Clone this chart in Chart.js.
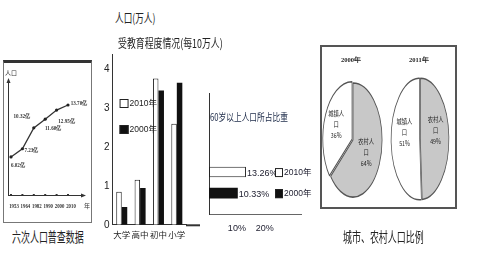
<!DOCTYPE html>
<html>
<head>
<meta charset="utf-8">
<script src="https://cdn.jsdelivr.net/npm/chart.js"></script>
<style>
body { margin:0; width:480px; height:270px; background:#fff; position:relative; overflow:hidden; font-family:"Noto Sans CJK SC", sans-serif; color:#222; }
canvas, .t, .box { position:absolute; }
.box { box-sizing:border-box; }
.t { white-space:nowrap; transform-origin:0 0; line-height:1; }
.pt { font:bold 6.5px "Liberation Serif", serif; }
</style>
</head>
<body>
<div class="box" style="left:3px;top:60px;width:89px;height:163px;border:1px solid #777;border-top:3px solid #333"></div>
<div class="box" style="left:320px;top:45px;width:137px;height:164px;border:2px solid #555"></div>

<canvas id="popChart" width="87" height="157" style="left:4px;top:64px"></canvas>
<canvas id="eduChart" width="110" height="200" style="left:95px;top:45px"></canvas>
<canvas id="agedChart" width="115" height="162" style="left:200px;top:88px"></canvas>
<canvas id="urban2000" width="130" height="130" style="left:288px;top:75px"></canvas>
<canvas id="urban2011" width="130" height="130" style="left:355px;top:74px"></canvas>

<div class="t" style="left:115px;top:12px;font-size:12px;transform:scaleX(0.72)">人口(万人)</div>
<div class="t" style="left:118px;top:37px;font-size:12px;transform:scaleX(0.74)">受教育程度情况(每10万人)</div>
<div class="t" style="left:210px;top:112px;font-size:10px;transform:scaleX(0.77);color:#1c2a48">60岁以上人口所占比重</div>
<div class="t" style="left:12px;top:229px;font-size:14px;transform:scaleX(0.64)">六次人口普查数据</div>
<div class="t" style="left:343px;top:229px;font-size:14px;transform:scaleX(0.64)">城市、农村人口比例</div>
<div class="t pt" style="left:341px;top:56px">2000年</div>
<div class="t pt" style="left:409px;top:56px">2011年</div>

<script>
// census line
const censusYears = ['1953', '1964', '1982', '1990', '2000', '2010'];
const censusPop = [6.02, 7.23, 10.32, 11.60, 12.95, 13.70];

// education bars (万人 per 10万人)
const eduLevels = ['大学', '高中', '初中', '小学'];
const edu2010 = [0.85, 1.16, 3.77, 2.60];
const edu2000 = [0.46, 0.95, 3.46, 3.66];

// aged population share (%)
const agedGroup = ['60岁以上'];
const aged2010 = [13.26];
const aged2000 = [10.33];

// urban / rural share (%)
const urbanLabels = ['农村人口', '城镇人口'];
const urban2000 = [64, 36];
const urban2011 = [49, 51];

const cjk = "'Noto Sans CJK SC', sans-serif";

// draw text squeezed horizontally (the scan's glyphs are narrow)
function sq(ctx, x, y, text, sx) {
    ctx.save();
    ctx.translate(x, y);
    ctx.scale(sx, 1);
    ctx.fillText(text, 0, 0);
    ctx.restore();
}

// axes with arrows, year ticks and value labels for the census chart
const popDecor = {
    id: 'popDecor',
    afterDraw(chart) {
        const { ctx, chartArea: a, scales: { x } } = chart;
        const y0 = a.bottom, x0 = a.left - 3;
        ctx.save();
        ctx.strokeStyle = '#333';
        ctx.fillStyle = '#333';
        ctx.lineWidth = 1;
        ctx.beginPath();
        ctx.moveTo(x0, y0 + 0.5); ctx.lineTo(a.right + 14, y0 + 0.5);
        ctx.moveTo(x0 + 0.5, y0); ctx.lineTo(x0 + 0.5, a.top - 2);
        ctx.stroke();
        ctx.beginPath();
        ctx.moveTo(a.right + 18, y0 + 0.5); ctx.lineTo(a.right + 13, y0 - 1.5); ctx.lineTo(a.right + 13, y0 + 2.5);
        ctx.fill();
        ctx.beginPath();
        ctx.moveTo(x0 + 0.5, a.top - 6); ctx.lineTo(x0 - 1.5, a.top - 1); ctx.lineTo(x0 + 2.5, a.top - 1);
        ctx.fill();
        ctx.textBaseline = 'middle';
        ctx.textAlign = 'center';
        ctx.font = 'bold 6px "Liberation Serif", serif';
        censusYears.forEach((yr, i) => {
            const px = x.getPixelForValue(i);
            ctx.fillRect(px - 1, y0 - 1, 2, 2);
            sq(ctx, px + 3, y0 + 11, yr, 0.8);
        });
        ctx.textAlign = 'left';
        ctx.font = '6px ' + cjk;
        ctx.fillText('人口', x0 - 3, a.top - 11);
        ctx.fillText('年', a.right + 16, y0 + 11);

        const shift = [[7, 8], [9, 2], [-12, -11], [8, 9], [10, 11], [11, -2]];
        ctx.font = 'bold 6px "Liberation Serif", serif';
        ctx.textAlign = 'center';
        chart.getDatasetMeta(0).data.forEach((pt, i) => {
            sq(ctx, pt.x + shift[i][0], pt.y + shift[i][1], censusPop[i].toFixed(2) + '亿', 0.85);
        });
        ctx.restore();
    }
};

new Chart(document.getElementById('popChart'), {
    type: 'line',
    data: {
        labels: censusYears,
        datasets: [{
            data: censusPop,
            borderColor: '#333',
            borderWidth: 1.3,
            pointRadius: 1.6,
            pointBackgroundColor: '#222',
            pointBorderWidth: 0,
            tension: 0
        }]
    },
    options: {
        responsive: false,
        animation: false,
        layout: { padding: { left: 7, right: 23, top: 20, bottom: 26 } },
        plugins: { legend: { display: false }, tooltip: { enabled: false } },
        scales: {
            y: { display: false, min: 0.4, max: 16.8 },
            x: {
                offset: false,
                grid: { display: false, drawTicks: false },
                border: { display: false },
                ticks: { display: false }
            }
        }
    },
    plugins: [popDecor]
});

// legend boxes inside the education chart, plus the axis tail
const eduLegend = {
    id: 'eduLegend',
    afterDraw(chart) {
        const { ctx, chartArea: a } = chart;
        ctx.save();
        chart.data.datasets.forEach((ds, i) => {
            const bx = a.left + 7, by = a.top + 45 + i * 26;
            ctx.fillStyle = ds.backgroundColor;
            ctx.fillRect(bx, by, 9, 9);
            ctx.strokeStyle = '#222';
            ctx.lineWidth = 1;
            ctx.strokeRect(bx + 0.5, by + 0.5, 8, 8);
            ctx.fillStyle = '#222';
            ctx.font = '8.5px "Liberation Sans", ' + cjk;
            ctx.textBaseline = 'middle';
            ctx.fillText(ds.label, bx + 10, by + 5);
        });
        ctx.strokeStyle = '#333';
        ctx.lineWidth = 2;
        ctx.beginPath();
        ctx.moveTo(a.right, a.bottom + 0.5);
        ctx.lineTo(a.right + 14, a.bottom + 0.5);
        ctx.stroke();
        ctx.restore();
    }
};

new Chart(document.getElementById('eduChart'), {
    type: 'bar',
    data: {
        labels: eduLevels,
        datasets: [
            { label: '2010年', data: edu2010, backgroundColor: '#fff', borderColor: '#222', borderWidth: 1 },
            { label: '2000年', data: edu2000, backgroundColor: '#111', borderColor: '#111', borderWidth: 0 }
        ]
    },
    options: {
        responsive: false,
        animation: false,
        layout: { padding: { left: 6, right: 19, top: 6.5, bottom: 0 } },
        datasets: { bar: { categoryPercentage: 0.6, barPercentage: 1 } },
        plugins: { legend: { display: false }, tooltip: { enabled: false } },
        scales: {
            x: {
                grid: { display: false, drawTicks: false },
                border: { color: '#333' },
                ticks: { color: '#222', padding: 5, maxRotation: 0, minRotation: 0, autoSkip: false, font: { family: cjk, size: 8.5 } }
            },
            y: {
                min: 0, max: 4.4,
                grid: { display: false, drawTicks: false },
                border: { color: '#333' },
                ticks: { stepSize: 1, includeBounds: false, padding: 3, color: '#222', font: { family: '"Liberation Sans", sans-serif', size: 10 } }
            }
        }
    },
    plugins: [eduLegend]
});

// value labels + legend for the aged share chart
const agedDecor = {
    id: 'agedDecor',
    afterDraw(chart) {
        const { ctx, chartArea: a } = chart;
        ctx.save();
        ctx.strokeStyle = '#333';
        ctx.lineWidth = 1;
        ctx.beginPath();
        ctx.moveTo(a.left + 0.5, a.top);
        ctx.lineTo(a.left + 0.5, 5);
        ctx.stroke();
        ctx.textBaseline = 'middle';
        chart.data.datasets.forEach((ds, i) => {
            const bar = chart.getDatasetMeta(i).data[0];
            ctx.fillStyle = '#223';
            ctx.font = '9px "Liberation Sans", ' + cjk;
            ctx.fillText(ds.data[0].toFixed(2) + '%', bar.x + 1, bar.y + 1);
            const lx = a.right - 26;
            ctx.fillStyle = ds.backgroundColor;
            ctx.fillRect(lx, bar.y - 4, 8, 9);
            ctx.strokeStyle = '#222';
            ctx.strokeRect(lx + 0.5, bar.y - 3.5, 7, 8);
            ctx.fillStyle = '#223';
            ctx.font = '8.5px "Liberation Sans", ' + cjk;
            ctx.fillText(ds.label, lx + 9, bar.y + 1);
        });
        ctx.restore();
    }
};

new Chart(document.getElementById('agedChart'), {
    type: 'bar',
    data: {
        labels: agedGroup,
        datasets: [
            { label: '2010年', data: aged2010, backgroundColor: '#fff', borderColor: '#222', borderWidth: 1, borderSkipped: false },
            { label: '2000年', data: aged2000, backgroundColor: '#111', borderWidth: 0 }
        ]
    },
    options: {
        indexAxis: 'y',
        responsive: false,
        animation: false,
        layout: { padding: { left: 8.5, right: 14, top: 63, bottom: 7 } },
        datasets: { bar: { categoryPercentage: 0.667, barPercentage: 0.5 } },
        plugins: { legend: { display: false }, tooltip: { enabled: false } },
        scales: {
            x: {
                min: 0, max: 33,
                grid: { display: false, drawTicks: false },
                border: { color: '#666', dash: [2, 1] },
                ticks: {
                    stepSize: 10, includeBounds: false, padding: 9, color: '#223',
                    font: { family: '"Liberation Sans", sans-serif', size: 9 },
                    callback: v => (v > 0 && v < 30) ? v + '%' : ''
                }
            },
            y: {
                grid: { display: false, drawTicks: false },
                border: { color: '#333' },
                ticks: { display: false }
            }
        }
    },
    plugins: [agedDecor]
});

// pies are ellipses in the scan: squeeze the arcs, keep labels upright
const squish = {
    id: 'squish',
    beforeDatasetsDraw(chart, args, opts) {
        const { ctx, chartArea: a } = chart;
        const cx = (a.left + a.right) / 2;
        ctx.save();
        ctx.translate(cx, 0);
        ctx.scale(opts.sx, 1);
        ctx.translate(-cx, 0);
    },
    afterDatasetsDraw(chart, args, opts) {
        const { ctx, chartArea: a } = chart;
        ctx.restore();
        const cx = (a.left + a.right) / 2;
        const ds = chart.data.datasets[0];
        ctx.save();
        ctx.fillStyle = '#222';
        ctx.font = '7px ' + cjk;
        ctx.textAlign = 'center';
        ctx.textBaseline = 'middle';
        chart.getDatasetMeta(0).data.forEach((arc, i) => {
            const p = arc.getProps(['x', 'y', 'startAngle', 'endAngle', 'outerRadius'], true);
            const mid = (p.startAngle + p.endAngle) / 2;
            const r = p.outerRadius * 0.5 + ds.offset[i];
            const px = cx + (p.x + Math.cos(mid) * r - cx) * opts.sx;
            const py = p.y + Math.sin(mid) * r + opts.dy;
            const name = chart.data.labels[i];
            [name.slice(0, 3), name.slice(3), ds.data[i] + '%'].forEach((t, k) => {
                sq(ctx, px, py + (k - 1) * 11, t, 0.75);
            });
        });
        ctx.restore();
    }
};

function makePie(id, values, radius, offsets, sx, dy) {
    return new Chart(document.getElementById(id), {
        type: 'pie',
        data: {
            labels: urbanLabels,
            datasets: [{
                data: values,
                backgroundColor: ['#c8c8c8', '#fff'],
                borderColor: '#555',
                borderWidth: 1.6,
                offset: offsets
            }]
        },
        options: {
            responsive: false,
            animation: false,
            radius: radius,
            plugins: { legend: { display: false }, tooltip: { enabled: false }, squish: { sx: sx, dy: dy } }
        },
        plugins: [squish]
    });
}

makePie('urban2000', urban2000, 57, [0, 8], 0.51, 0);
makePie('urban2011', urban2011, 60, [3, 3], 0.47, -8);
</script>
</body>
</html>
